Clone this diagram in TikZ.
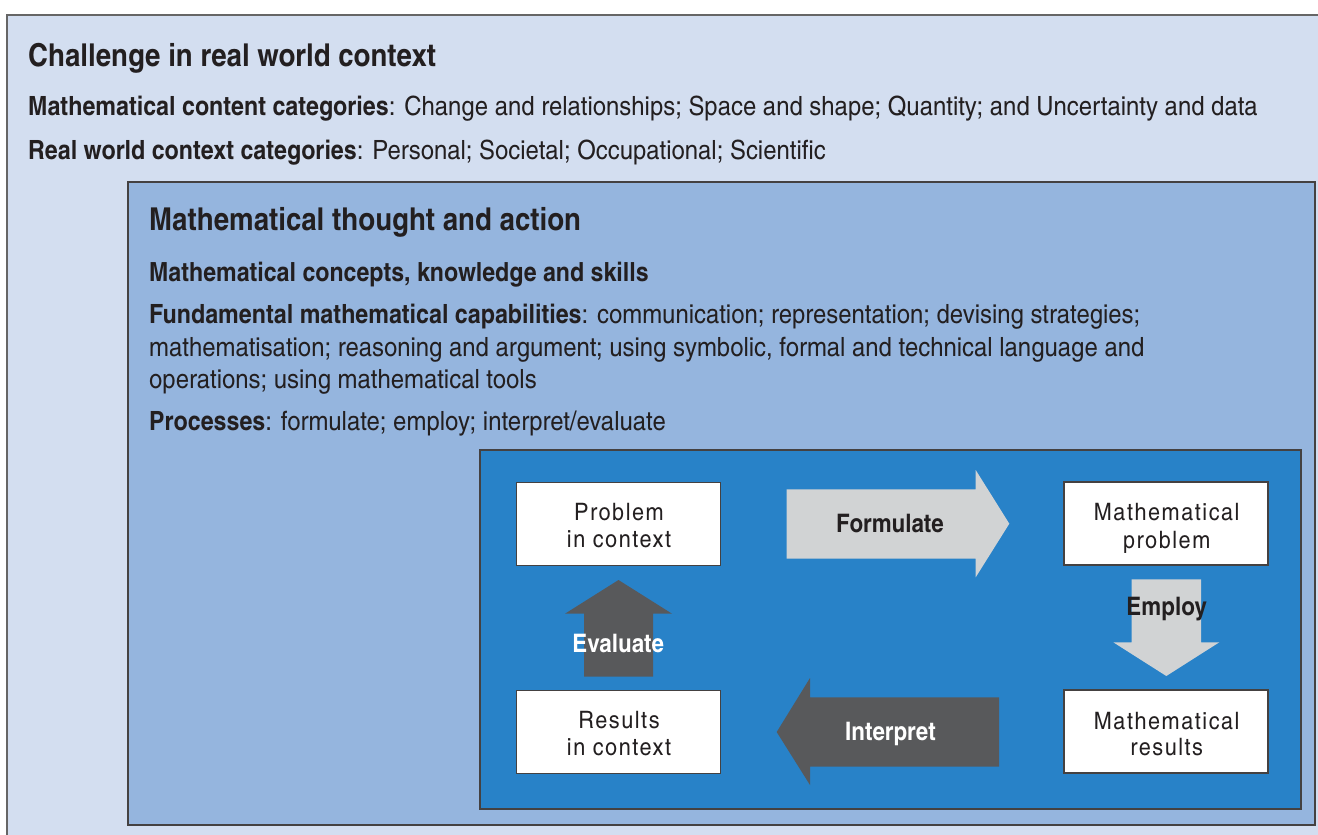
\documentclass[tikz,border=0pt]{standalone}
\usepackage{fontspec}
\setmainfont{TeX Gyre Heros Cn}[UprightFeatures={FakeStretch=1.10},BoldFeatures={FakeStretch=1.07}]
\newfontfamily\boxfont{TeX Gyre Heros Cn}[FakeStretch=1.10,LetterSpace=6.4]
\definecolor{outerbg}{HTML}{D3DEF0}
\definecolor{midbg}{HTML}{95B5DE}
\definecolor{innerbg}{HTML}{2882C8}
\definecolor{lgray}{HTML}{D1D3D4}
\definecolor{dgray}{HTML}{58595B}
\definecolor{ink}{HTML}{231F20}
\begin{document}
\begin{tikzpicture}[x=1pt,y=-1pt,
 txt/.style={anchor=base west,inner sep=0pt,text=ink,font=\fontsize{26.5}{30}\selectfont},
 bigtitle/.style={txt,font=\fontsize{31.5}{36}\selectfont\bfseries},
 subtitle/.style={txt,font=\fontsize{26.4}{30}\selectfont\bfseries},
 stagebox/.style={draw=ink!85,line width=1.2pt,fill=white,minimum width=204pt,minimum height=83pt,inner sep=0pt},
 stagetxt/.style={anchor=base,inner sep=0pt,text=ink,font=\boxfont\fontsize{24}{27}\selectfont},
 lbl/.style={anchor=base,font=\fontsize{25.5}{28}\selectfont\bfseries,inner sep=0pt}]
\useasboundingbox (0,0) rectangle (1318,835);
\clip (0,0) rectangle (1318,835);
\fill[white] (0,0) rectangle (1318,835);
% frames
\draw[fill=outerbg,draw=gray!80!black,line width=1.5pt] (7,15) rectangle (1340,860);
\draw[fill=midbg,draw=ink!85,line width=1.2pt] (128,182) rectangle (1315,825);
\draw[fill=innerbg,draw=ink!85,line width=1.2pt] (480,450) rectangle (1301,809);
% texts outer
\node[bigtitle] (t1) at (28,66) {Challenge in real world context};
\node[txt] (t2) at (28,115.7) {\textbf{Mathematical content categories}: Change and relationships; Space and shape; Quantity; and Uncertainty and data};
\node[txt] (t3) at (28,159) {\textbf{Real world context categories}: Personal; Societal; Occupational; Scientific};
% texts middle
\node[bigtitle] (m1) at (149,230) {Mathematical thought and action};
\node[subtitle] (m2) at (149,281) {Mathematical concepts, knowledge and skills};
\node[txt] (m3) at (149,323) {\textbf{Fundamental mathematical capabilities}: communication; representation; devising strategies;};
\node[txt] (m4) at (149,356) {mathematisation; reasoning and argument; using symbolic, formal and technical language and};
\node[txt] (m5) at (149,388) {operations; using mathematical tools};
\node[txt] (m6) at (149,430) {\textbf{Processes}: formulate; employ; interpret/evaluate};
% arrows
\fill[lgray] (786.7,489.3) -- (975.7,489.3) -- (975.7,470) -- (1009.3,523.7) -- (975.7,577.3) -- (975.7,558.7) -- (786.7,558.7) -- cycle;
\fill[lgray] (1131.7,579.3) -- (1201,579.3) -- (1201,642.3) -- (1219.3,642.3) -- (1166.3,676) -- (1113.3,642.3) -- (1131.7,642.3) -- cycle;
\fill[dgray] (584,676.7) -- (653,676.7) -- (653,613.7) -- (672,613.7) -- (618.5,580) -- (565,613.7) -- (584,613.7) -- cycle;
\fill[dgray] (999,697.3) -- (999,766.7) -- (810,766.7) -- (810,785) -- (776.7,732) -- (810,678) -- (810,697.3) -- cycle;
% stage boxes
\node[stagebox] (pc) at (618.7,523.7) {};
\node[stagebox] (mp) at (1166,523.5) {};
\node[stagebox] (rc) at (618.8,732) {};
\node[stagebox] (mr) at (1166,731.5) {};
\node[stagetxt] (pc1) at (619,520.8) {Problem};
\node[stagetxt] (pc2) at (619,547.5) {in context};
\node[stagetxt] (mp1) at (1166.7,520) {Mathematical};
\node[stagetxt] (mp2) at (1166.7,548) {problem};
\node[stagetxt] (rc1) at (619,728.3) {Results};
\node[stagetxt] (rc2) at (619,755) {in context};
\node[stagetxt] (mr1) at (1166.7,729) {Mathematical};
\node[stagetxt] (mr2) at (1166.7,755.5) {results};
% labels
\node[lbl,text=ink] (lf) at (890,532.7) {Formulate};
\node[lbl,text=ink] (le) at (1166.7,615) {Employ};
\node[lbl,text=white] (lv) at (618.3,652.3) {Evaluate};
\node[lbl,text=white] (li) at (890.5,740.7) {Interpret};
\end{tikzpicture}
\end{document}
